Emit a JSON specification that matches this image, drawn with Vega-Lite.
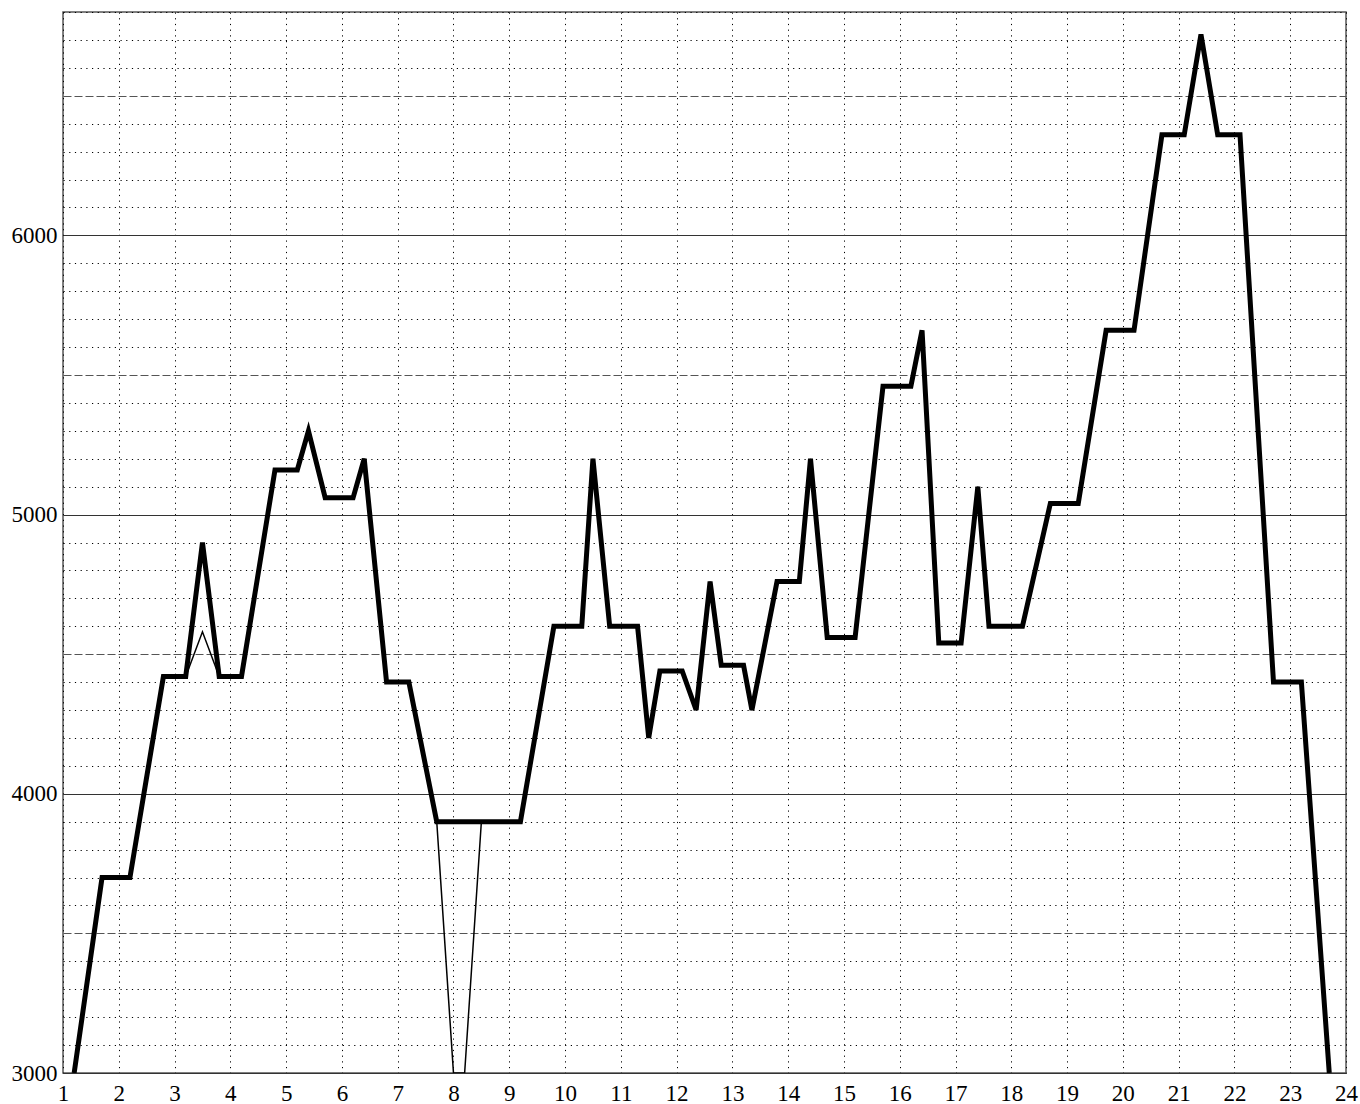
{
  "$schema": "https://vega.github.io/schema/vega-lite/v6.json",
  "width": 1283,
  "height": 1061,
  "autosize": {"type": "none"},
  "padding": {"left": 63, "top": 12, "right": 14, "bottom": 31},
  "background": "white",
  "config": {
    "view": {"stroke": "#555", "strokeWidth": 1.5},
    "font": "Liberation Serif"
  },
  "data": {
    "values": [
      {"t": 1.2, "v": 3000, "series": "main"},
      {"t": 1.7, "v": 3700, "series": "main"},
      {"t": 2.2, "v": 3700, "series": "main"},
      {"t": 2.8, "v": 4420, "series": "main"},
      {"t": 3.2, "v": 4420, "series": "main"},
      {"t": 3.5, "v": 4900, "series": "main"},
      {"t": 3.8, "v": 4420, "series": "main"},
      {"t": 4.2, "v": 4420, "series": "main"},
      {"t": 4.8, "v": 5160, "series": "main"},
      {"t": 5.2, "v": 5160, "series": "main"},
      {"t": 5.4, "v": 5300, "series": "main"},
      {"t": 5.7, "v": 5060, "series": "main"},
      {"t": 6.2, "v": 5060, "series": "main"},
      {"t": 6.4, "v": 5200, "series": "main"},
      {"t": 6.8, "v": 4400, "series": "main"},
      {"t": 7.2, "v": 4400, "series": "main"},
      {"t": 7.7, "v": 3900, "series": "main"},
      {"t": 9.2, "v": 3900, "series": "main"},
      {"t": 9.8, "v": 4600, "series": "main"},
      {"t": 10.3, "v": 4600, "series": "main"},
      {"t": 10.5, "v": 5200, "series": "main"},
      {"t": 10.8, "v": 4600, "series": "main"},
      {"t": 11.3, "v": 4600, "series": "main"},
      {"t": 11.5, "v": 4200, "series": "main"},
      {"t": 11.7, "v": 4440, "series": "main"},
      {"t": 12.1, "v": 4440, "series": "main"},
      {"t": 12.35, "v": 4300, "series": "main"},
      {"t": 12.6, "v": 4760, "series": "main"},
      {"t": 12.8, "v": 4460, "series": "main"},
      {"t": 13.2, "v": 4460, "series": "main"},
      {"t": 13.35, "v": 4300, "series": "main"},
      {"t": 13.8, "v": 4760, "series": "main"},
      {"t": 14.2, "v": 4760, "series": "main"},
      {"t": 14.4, "v": 5200, "series": "main"},
      {"t": 14.7, "v": 4560, "series": "main"},
      {"t": 15.2, "v": 4560, "series": "main"},
      {"t": 15.7, "v": 5460, "series": "main"},
      {"t": 16.2, "v": 5460, "series": "main"},
      {"t": 16.4, "v": 5660, "series": "main"},
      {"t": 16.7, "v": 4540, "series": "main"},
      {"t": 17.1, "v": 4540, "series": "main"},
      {"t": 17.4, "v": 5100, "series": "main"},
      {"t": 17.6, "v": 4600, "series": "main"},
      {"t": 18.2, "v": 4600, "series": "main"},
      {"t": 18.7, "v": 5040, "series": "main"},
      {"t": 19.2, "v": 5040, "series": "main"},
      {"t": 19.7, "v": 5660, "series": "main"},
      {"t": 20.2, "v": 5660, "series": "main"},
      {"t": 20.7, "v": 6360, "series": "main"},
      {"t": 21.1, "v": 6360, "series": "main"},
      {"t": 21.4, "v": 6720, "series": "main"},
      {"t": 21.7, "v": 6360, "series": "main"},
      {"t": 22.1, "v": 6360, "series": "main"},
      {"t": 22.7, "v": 4400, "series": "main"},
      {"t": 23.2, "v": 4400, "series": "main"},
      {"t": 23.7, "v": 3000, "series": "main"},

      {"t": 1.2, "v": 3000, "series": "alt"},
      {"t": 1.7, "v": 3700, "series": "alt"},
      {"t": 2.2, "v": 3700, "series": "alt"},
      {"t": 2.8, "v": 4420, "series": "alt"},
      {"t": 3.2, "v": 4420, "series": "alt"},
      {"t": 3.5, "v": 4580, "series": "alt"},
      {"t": 3.8, "v": 4420, "series": "alt"},
      {"t": 4.2, "v": 4420, "series": "alt"},
      {"t": 4.8, "v": 5160, "series": "alt"},
      {"t": 5.2, "v": 5160, "series": "alt"},
      {"t": 5.4, "v": 5300, "series": "alt"},
      {"t": 5.7, "v": 5060, "series": "alt"},
      {"t": 6.2, "v": 5060, "series": "alt"},
      {"t": 6.4, "v": 5200, "series": "alt"},
      {"t": 6.8, "v": 4400, "series": "alt"},
      {"t": 7.2, "v": 4400, "series": "alt"},
      {"t": 7.7, "v": 3900, "series": "alt"},
      {"t": 8.0, "v": 3000, "series": "alt"},
      {"t": 8.2, "v": 3000, "series": "alt"},
      {"t": 8.5, "v": 3900, "series": "alt"},
      {"t": 9.2, "v": 3900, "series": "alt"},
      {"t": 9.8, "v": 4600, "series": "alt"},
      {"t": 10.3, "v": 4600, "series": "alt"},
      {"t": 10.5, "v": 5200, "series": "alt"},
      {"t": 10.8, "v": 4600, "series": "alt"},
      {"t": 11.3, "v": 4600, "series": "alt"},
      {"t": 11.5, "v": 4200, "series": "alt"},
      {"t": 11.7, "v": 4440, "series": "alt"},
      {"t": 12.1, "v": 4440, "series": "alt"},
      {"t": 12.35, "v": 4300, "series": "alt"},
      {"t": 12.6, "v": 4760, "series": "alt"},
      {"t": 12.8, "v": 4460, "series": "alt"},
      {"t": 13.2, "v": 4460, "series": "alt"},
      {"t": 13.35, "v": 4300, "series": "alt"},
      {"t": 13.8, "v": 4760, "series": "alt"},
      {"t": 14.2, "v": 4760, "series": "alt"},
      {"t": 14.4, "v": 5200, "series": "alt"},
      {"t": 14.7, "v": 4560, "series": "alt"},
      {"t": 15.2, "v": 4560, "series": "alt"},
      {"t": 15.7, "v": 5460, "series": "alt"},
      {"t": 16.2, "v": 5460, "series": "alt"},
      {"t": 16.4, "v": 5660, "series": "alt"},
      {"t": 16.7, "v": 4540, "series": "alt"},
      {"t": 17.1, "v": 4540, "series": "alt"},
      {"t": 17.4, "v": 5100, "series": "alt"},
      {"t": 17.6, "v": 4600, "series": "alt"},
      {"t": 18.2, "v": 4600, "series": "alt"},
      {"t": 18.7, "v": 5040, "series": "alt"},
      {"t": 19.2, "v": 5040, "series": "alt"},
      {"t": 19.7, "v": 5660, "series": "alt"},
      {"t": 20.2, "v": 5660, "series": "alt"},
      {"t": 20.7, "v": 6360, "series": "alt"},
      {"t": 21.1, "v": 6360, "series": "alt"},
      {"t": 21.4, "v": 6720, "series": "alt"},
      {"t": 21.7, "v": 6360, "series": "alt"},
      {"t": 22.1, "v": 6360, "series": "alt"},
      {"t": 22.7, "v": 4400, "series": "alt"},
      {"t": 23.2, "v": 4400, "series": "alt"},
      {"t": 23.7, "v": 3000, "series": "alt"}
    ]
  },
  "mark": {"type": "line", "clip": true, "color": "black"},
  "encoding": {
    "x": {
      "field": "t",
      "type": "quantitative",
      "scale": {"domain": [1, 24], "nice": false, "zero": false},
      "axis": {
        "title": null,
        "values": [1,2,3,4,5,6,7,8,9,10,11,12,13,14,15,16,17,18,19,20,21,22,23,24],
        "format": "d",
        "grid": true,
        "gridColor": "#000",
        "gridDash": [1.2, 4.5],
        "gridWidth": 1,
        "domain": false,
        "ticks": false,
        "tickSize": 0,
        "labelPadding": 9,
        "labelFont": "Liberation Serif",
        "labelFontSize": 23,
        "labelColor": "#000",
        "labelFlush": false,
        "labelOverlap": false
      }
    },
    "y": {
      "field": "v",
      "type": "quantitative",
      "scale": {"domain": [3000, 6800], "nice": false, "zero": false},
      "axis": {
        "title": null,
        "values": [3000,3100,3200,3300,3400,3500,3600,3700,3800,3900,4000,4100,4200,4300,4400,4500,4600,4700,4800,4900,5000,5100,5200,5300,5400,5500,5600,5700,5800,5900,6000,6100,6200,6300,6400,6500,6600,6700,6800],
        "format": "d",
        "labelExpr": "datum.value % 1000 === 0 ? datum.label : ''",
        "grid": true,
        "gridDash": {
          "condition": [
            {"test": "datum.value % 1000 === 0", "value": []},
            {"test": "datum.value % 500 === 0", "value": [8, 3]}
          ],
          "value": [1.2, 4.5]
        },
        "gridColor": {
          "condition": [
            {"test": "datum.value % 1000 === 0", "value": "#333"},
            {"test": "datum.value % 500 === 0", "value": "#555"}
          ],
          "value": "#000"
        },
        "gridWidth": 1,
        "domain": false,
        "ticks": false,
        "tickSize": 0,
        "labelPadding": 6,
        "labelFont": "Liberation Serif",
        "labelFontSize": 23,
        "labelColor": "#000",
        "labelOverlap": false,
        "labelFlush": false
      }
    },
    "strokeWidth": {
      "field": "series",
      "type": "nominal",
      "scale": {"domain": ["main", "alt"], "range": [5, 1.5]},
      "legend": null
    }
  }
}
